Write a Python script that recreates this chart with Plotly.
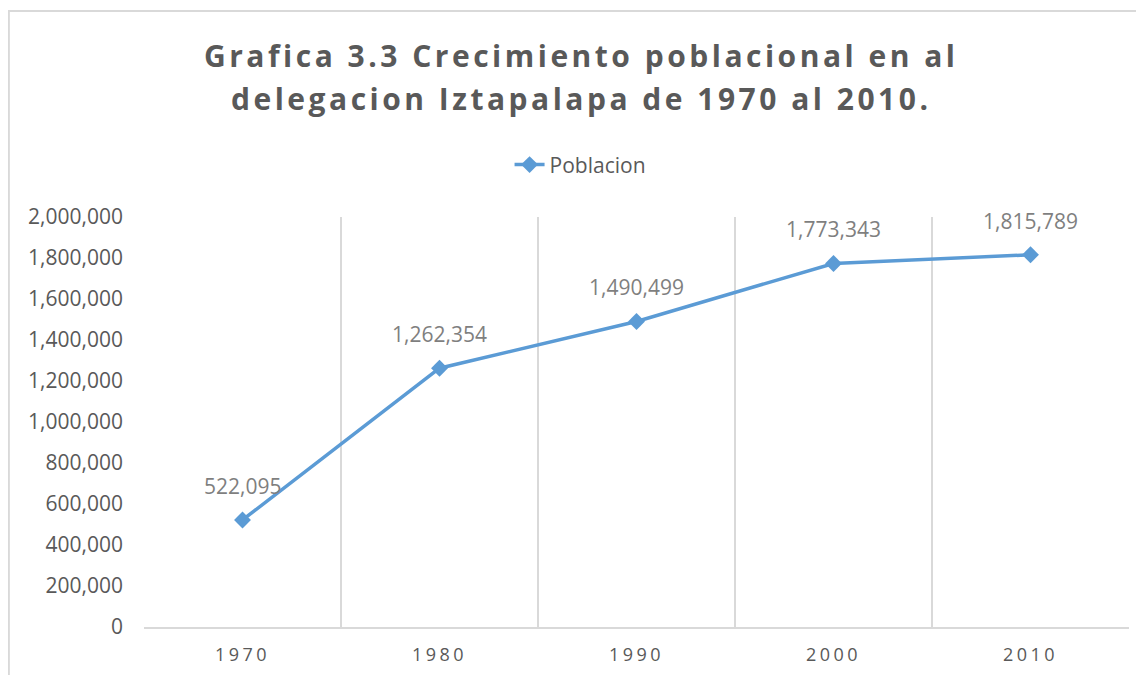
import plotly.graph_objects as go

# Data
years = ["1970", "1980", "1990", "2000", "2010"]
poblacion = [522095, 1262354, 1490499, 1773343, 1815789]
label_text = ["522,095", "1,262,354", "1,490,499", "1,773,343", "1,815,789"]
title_lines = ["Grafica 3.3 Crecimiento poblacional en al",
               "delegacion Iztapalapa de 1970 al 2010."]

fig = go.Figure()

# Population line with diamond markers
fig.add_trace(go.Scatter(
    x=years,
    y=poblacion,
    mode="lines+markers",
    name="Poblacion",
    line=dict(color="#5B9BD5", width=3.5),
    marker=dict(symbol="diamond", size=13, color="#5B9BD5"),
))

# Data labels above each point (x given as category index)
for i, (val, txt) in enumerate(zip(poblacion, label_text)):
    fig.add_annotation(
        x=i, y=val, text=txt, showarrow=False, yshift=34,
        font=dict(family="Open Sans", size=21, color="#7F7F7F"),
    )

# Two-line title, letter-spaced like the original
for txt, ty in zip(title_lines, [1.395, 1.29]):
    fig.add_annotation(
        xref="paper", yref="paper", x=0.4437, y=ty,
        xanchor="center", yanchor="middle", showarrow=False,
        text=f'<span style="letter-spacing:3.5px">{txt}</span>',
        font=dict(family="Open Sans", size=30, color="#595959", weight="bold"),
    )

# Outer chart border
fig.add_shape(
    type="rect", xref="paper", yref="paper",
    x0=-0.1372, x1=1.03, y0=-0.2, y1=1.5024,
    line=dict(color="#D9D9D9", width=2), layer="below",
)

fig.update_layout(
    width=1136,
    height=667,
    autosize=False,
    margin=dict(l=136, r=15, t=209, b=48, autoexpand=False),
    paper_bgcolor="white",
    plot_bgcolor="white",
    font=dict(family="Open Sans", color="#595959"),
    legend=dict(
        orientation="h",
        x=0.4427, xanchor="center",
        y=1.127, yanchor="middle",
        font=dict(size=21, color="#595959"),
    ),
    showlegend=True,
    xaxis=dict(
        type="category",
        tickson="boundaries",
        tickmode="array",
        tickvals=years,
        ticktext=[f'<span style="letter-spacing:3.5px">{y}</span>' for y in years],
        showgrid=True,
        gridcolor="#D9D9D9",
        gridwidth=1.5,
        showline=True,
        linecolor="#D9D9D9",
        linewidth=2,
        ticks="",
        ticklabelstandoff=10,
        tickfont=dict(size=18, color="#595959"),
        range=[-0.5, 4.5],
    ),
    yaxis=dict(
        range=[0, 2000000],
        dtick=200000,
        tickformat=",",
        showgrid=False,
        zeroline=False,
        showline=False,
        ticks="",
        ticklabelstandoff=20,
        tickfont=dict(size=21, color="#595959"),
    ),
)

fig.write_html("out.html")
